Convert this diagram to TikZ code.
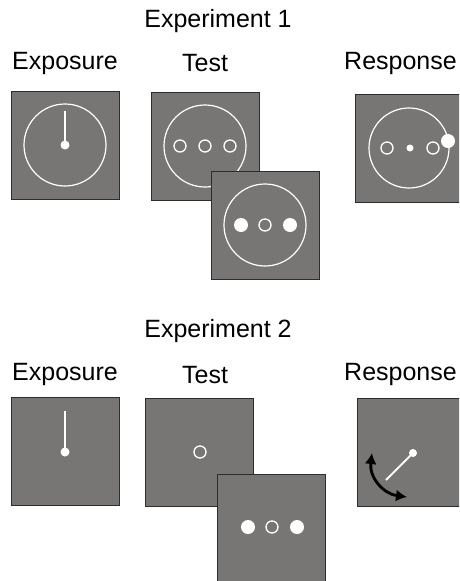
\documentclass[tikz,border=0pt]{standalone}
\usepackage{fontspec}
\setmainfont{Liberation Sans}
\usepackage{tikz}
\usetikzlibrary{arrows.meta, positioning}
\definecolor{panelgray}{RGB}{120,118,116}
\definecolor{paneledge}{RGB}{45,45,45}
\tikzset{
  panel/.style={rectangle, draw=paneledge, fill=panelgray,
    minimum width=108pt, minimum height=108pt, line width=1pt, inner sep=0pt},
  ring/.style={circle, draw=white, minimum size=82pt, line width=1.2pt, inner sep=0pt},
  hole/.style={circle, draw=white, minimum size=12pt, line width=1.3pt, inner sep=0pt},
  blob/.style={circle, fill=white, minimum size=14pt, inner sep=0pt},
  pin/.style={circle, fill=white, minimum size=9pt, inner sep=0pt},
  needle/.style={white, line width=2.5pt},
  heading/.style={font=\fontsize{25}{29}\selectfont, anchor=base, inner sep=0pt},
  turn/.style={{Latex[length=11pt,width=12pt]}-{Latex[length=11pt,width=12pt]}, line width=2.8pt, black}
}

\begin{document}
\begin{tikzpicture}[x=1pt, y=-1pt]
  \useasboundingbox (0,0) rectangle (459,581);
  \clip (0,0) rectangle (459,581);

  % Experiment 1
  \node[heading] (title1) at (218,27) {Experiment 1};
  \node[heading] (lexp1) at (65,69) {Exposure};
  \node[heading] (ltest1) at (205,71) {Test};
  \node[heading, anchor=base east] (lresp1) at (457,69) {Response};

  \node[panel] (exp1) at (65,145) {};
  \node[ring] (exp1c) at (exp1) {};
  \node[pin] (exp1p) at (exp1) {};
  \coordinate (exp1top) at (65,111);
  \draw[needle] (exp1top) -- (exp1p.center);

  \node[panel] (test1a) at (205,146) {};
  \node[ring] at (test1a) {};
  \node[hole] (t1a1) at (180,146) {};
  \node[hole] (t1a2) at (205,146) {};
  \node[hole] (t1a3) at (230,146) {};

  \node[panel] (test1b) at (265,225) {};
  \node[ring] at (test1b) {};
  \node[blob] (t1b1) at (241,225) {};
  \node[hole] (t1b2) at (265,225) {};
  \node[blob] (t1b3) at (290,225) {};

  \node[panel] (resp1) at (409,148) {};
  \node[ring, minimum size=80pt] at (resp1) {};
  \node[hole] (r1a) at (387,148) {};
  \node[circle, fill=white, minimum size=7pt, inner sep=0pt] (r1b) at (410,148) {};
  \node[hole] (r1c) at (433,148) {};
  \node[blob] (r1d) at (448,141) {};

  % Experiment 2
  \node[heading] (title2) at (218,337) {Experiment 2};
  \node[heading] (lexp2) at (65,380) {Exposure};
  \node[heading] (ltest2) at (205,383) {Test};
  \node[heading, anchor=base east] (lresp2) at (457,380) {Response};

  \node[panel] (exp2) at (65,451) {};
  \node[pin] (exp2p) at (65,452) {};
  \coordinate (exp2top) at (65,411);
  \draw[needle] (exp2top) -- (exp2p.center);

  \node[panel] (test2a) at (199,452) {};
  \node[hole] (t2a) at (200,452) {};

  \node[panel] (test2b) at (271,528) {};
  \node[blob] (t2b1) at (248,527) {};
  \node[hole] (t2b2) at (272,527) {};
  \node[blob] (t2b3) at (297,527) {};

  \node[panel] (resp2) at (411,452) {};
  \node[circle, fill=white, minimum size=8pt, inner sep=0pt] (r2p) at (413,453) {};
  \coordinate (r2end) at (386,480);
  \draw[white, line width=2pt] (r2end) -- (r2p.center);
  \coordinate (arcA) at (372,453);
  \coordinate (arcB) at (407,497);
  \draw[turn] (arcA) .. controls (369,478) and (384,494) .. (arcB);
\end{tikzpicture}
\end{document}
